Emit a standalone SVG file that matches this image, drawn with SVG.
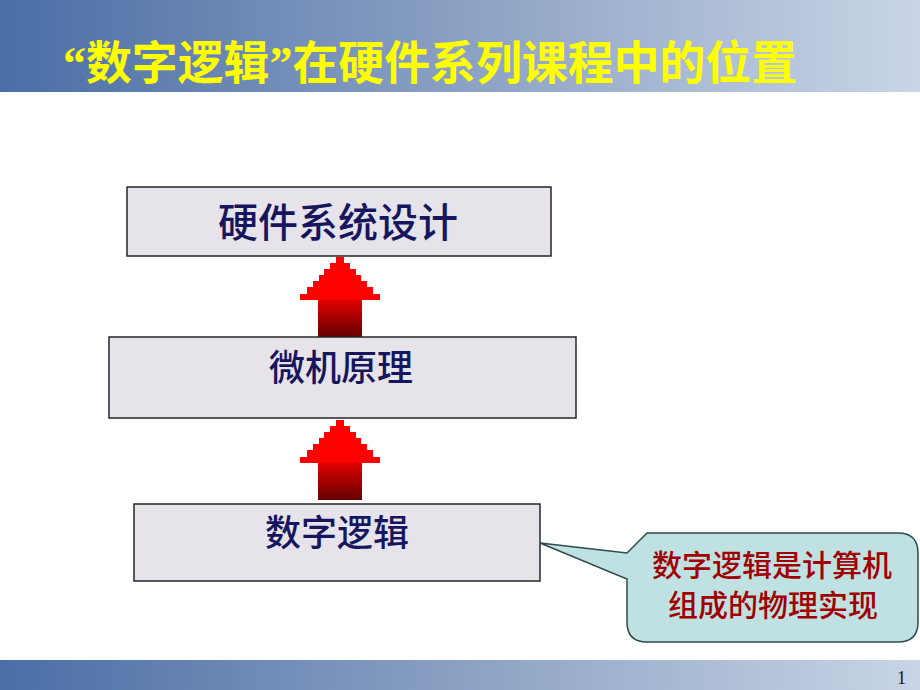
<svg xmlns="http://www.w3.org/2000/svg" width="920" height="690" viewBox="0 0 920 690">
  <defs>
    <linearGradient id="band" x1="0" y1="0" x2="1" y2="0">
      <stop offset="0" stop-color="#4a6ea6"/>
      <stop offset="0.5" stop-color="#8ba1c3"/>
      <stop offset="1" stop-color="#c9d5e6"/>
    </linearGradient>
    <linearGradient id="shaft" x1="0" y1="0" x2="0" y2="1">
      <stop offset="0" stop-color="#e30000"/>
      <stop offset="1" stop-color="#650000"/>
    </linearGradient>
    <g id="uparrow">
      <path d="M -4,0 H 4 V 6 H 10 V 12 H 16 V 18 H 21 V 24 H 27 V 30 H 33 V 37 H 40 V 43 H -40 V 37 H -33 V 30 H -27 V 24 H -21 V 18 H -16 V 12 H -10 V 6 H -4 Z" fill="#ff0000"/>
      <rect x="-22" y="43" width="44" height="37" fill="url(#shaft)"/>
    </g>
    <style>
      .box { fill: #e7e3eb; stroke: #262626; stroke-width: 1.5; }
      .lbl { font-family: "Noto Sans CJK SC", "Noto Sans", sans-serif; fill: #16165e; text-anchor: middle; font-weight: 500; }
      .call { fill: #bfe1e1; stroke: #2e4a4a; stroke-width: 1.5; }
      .ctext { font-family: "Noto Sans CJK SC", "Noto Sans", sans-serif; fill: #a00000; font-size: 30px; text-anchor: middle; font-weight: 500; }
      .title { font-family: "Liberation Serif", "Noto Sans CJK SC", sans-serif; font-weight: 700; font-size: 46px; fill: #ffff00; }
    </style>
  </defs>

  <rect width="920" height="690" fill="#ffffff"/>

  <!-- header -->
  <g id="header">
    <rect x="0" y="0" width="920" height="92" fill="url(#band)"/>
    <text class="title" x="63" y="79" textLength="734" lengthAdjust="spacingAndGlyphs">“数字逻辑”在硬件系列课程中的位置</text>
  </g>

  <!-- footer -->
  <g id="footer">
    <rect x="0" y="660" width="920" height="30" fill="url(#band)"/>
    <text x="897" y="684" font-family="Liberation Serif, serif" font-size="18" fill="#1a1a1a">1</text>
  </g>

  <!-- connectors -->
  <g id="connectors">
    <use href="#uparrow" transform="translate(340,257)"/>
    <use href="#uparrow" transform="translate(340,420)"/>
  </g>

  <g id="node-hw">
    <rect class="box" x="127" y="187" width="424" height="69"/>
    <text class="lbl" x="338" y="237" font-size="40">硬件系统设计</text>
  </g>

  <g id="node-micro">
    <rect class="box" x="109" y="337" width="467" height="81"/>
    <text class="lbl" x="341" y="381" font-size="36">微机原理</text>
  </g>

  <g id="node-digital">
    <rect class="box" x="134" y="504" width="406" height="77"/>
    <text class="lbl" x="337" y="546" font-size="36">数字逻辑</text>
  </g>

  <g id="callout">
    <path class="call" d="M 647,533 H 898 Q 918,533 918,553 V 622 Q 918,642 898,642 H 647 Q 627,642 627,622 V 579 L 540,543 L 627,553 Z"/>
    <text class="ctext" x="772" y="576">数字逻辑是计算机</text>
    <text class="ctext" x="773" y="616">组成的物理实现</text>
  </g>
</svg>
